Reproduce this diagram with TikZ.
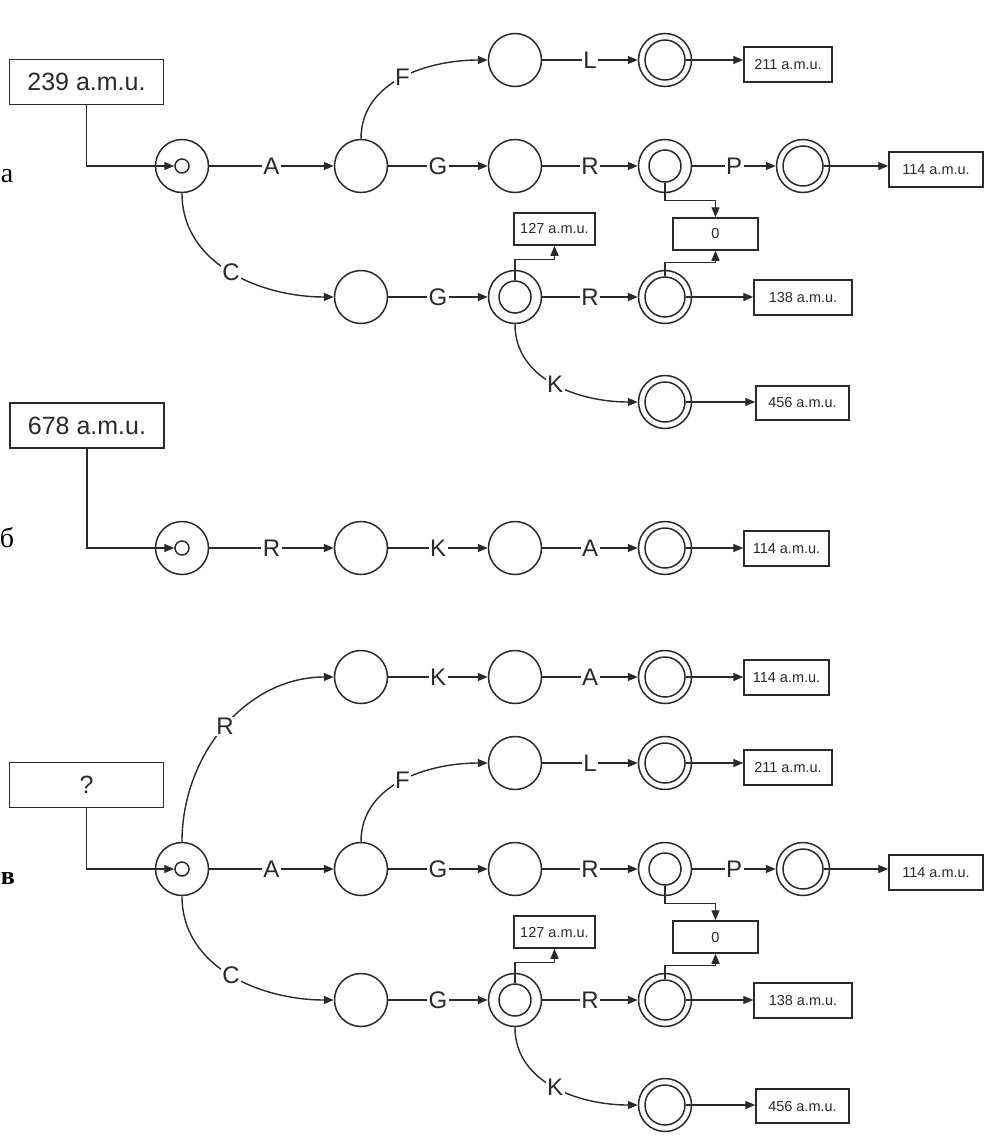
\documentclass[tikz,border=0pt]{standalone}
\usepackage{fontspec}
\setmainfont{Liberation Sans}
\newfontfamily\serifcyr{Liberation Serif}
\usetikzlibrary{arrows.meta}
\definecolor{ink}{HTML}{2A2A2A}
\tikzset{
  st/.style={circle,draw=ink,line width=1.5pt,minimum size=53pt,inner sep=0pt},
  inn/.style={circle,draw=ink,line width=1.5pt,inner sep=0pt,minimum size=#1},
  bigbox/.style={draw=ink,line width=1.5pt,inner sep=0pt,minimum width=154pt,minimum height=45pt,text=ink,font=\fontsize{25}{25}\selectfont},
  smallbox/.style={draw=ink,line width=1.5pt,inner sep=0pt,minimum height=35pt,text=ink,font=\fontsize{14.5}{14.5}\selectfont},
  arr/.style={draw=ink,line width=1.4pt,-{Triangle[length=10pt,width=8pt]}},
  lbl/.style={fill=white,inner sep=1.5pt,text=ink,font=\fontsize{24}{24}\selectfont},
  part/.style={font=\serifcyr\fontsize{28}{28}\selectfont,anchor=base,text=black}
}
\newcommand\mainpart[2]{%
  \node[bigbox] (#1b) at (86.5,82) {#2};
  \node[st] (#1s0) at (182,166) {};
  \node[inn=14pt] (#1s0i) at (182,166) {};
  \node[st] (#1n1) at (361,166) {};
  \node[st] (#1n2) at (515,60) {};
  \node[st] (#1f1) at (665,60) {};
  \node[inn=40pt] (#1f1i) at (665,60) {};
  \node[smallbox,minimum width=88pt] (#1b211) at (788,64.5) {211 a.m.u.};
  \node[st] (#1n3) at (515,166) {};
  \node[st] (#1o1) at (665,166) {};
  \node[inn=32pt] (#1o1i) at (665,166) {};
  \node[st] (#1f2) at (803,166) {};
  \node[inn=40pt] (#1f2i) at (803,166) {};
  \node[smallbox,minimum width=94pt] (#1b114) at (936,169.5) {114 a.m.u.};
  \node[smallbox,minimum width=85pt,minimum height=32pt] (#1b0) at (715.5,234) {0};
  \node[st] (#1n4) at (361,297) {};
  \node[st] (#1o2) at (515,297) {};
  \node[inn=32pt] (#1o2i) at (515,297) {};
  \node[smallbox,minimum width=81pt,minimum height=32pt] (#1b127) at (554.5,229) {127 a.m.u.};
  \node[st] (#1f3) at (665,297) {};
  \node[inn=40pt] (#1f3i) at (665,297) {};
  \node[smallbox,minimum width=98pt] (#1b138) at (803,297.5) {138 a.m.u.};
  \node[st] (#1f4) at (665,402) {};
  \node[inn=40pt] (#1f4i) at (665,402) {};
  \node[smallbox,minimum width=93pt,minimum height=34pt] (#1b456) at (802.5,403) {456 a.m.u.};
  \draw[arr] (#1b.south) |- (#1s0i.west);
  \draw[arr] (#1s0) -- node[lbl]{A} (#1n1);
  \draw[arr] (#1n1) -- node[lbl]{G} (#1n3);
  \draw[arr] (#1n3) -- node[lbl]{R} (#1o1);
  \draw[arr] (#1o1) -- node[lbl]{P} (#1f2);
  \draw[arr] (#1f2i.east) -- (#1f2i.east -| #1b114.west);
  \draw[arr] (#1n1.north) to[out=90,in=180] node[lbl]{F} (#1n2.west);
  \draw[arr] (#1n2) -- node[lbl]{L} (#1f1);
  \draw[arr] (#1f1i.east) -- (#1f1i.east -| #1b211.west);
  \draw[arr] (#1s0.south) to[out=-90,in=180] node[lbl]{C} (#1n4.west);
  \draw[arr] (#1n4) -- node[lbl]{G} (#1o2);
  \draw[arr] (#1o2) -- node[lbl]{R} (#1f3);
  \draw[arr] (#1f3i.east) -- (#1f3i.east -| #1b138.west);
  \draw[arr] (#1o2.south) to[out=-90,in=180] node[lbl]{K} (#1f4.west);
  \draw[arr] (#1f4i.east) -- (#1f4i.east -| #1b456.west);
  \draw[arr] (#1o1i.south) -- ++(0,18) -| (#1b0.north);
  \draw[arr] (#1f3i.north) -- ++(0,-14) -| (#1b0.south);
  \draw[arr] (#1o2i.north) -- ++(0,-21) -| (#1b127.south);
}
\begin{document}
\begin{tikzpicture}[x=1pt,y=-1pt]
\useasboundingbox[fill=white] (0,0) rectangle (987,1143);
% part a
\node[part] (pa) at (7,182) {а};
\mainpart{a}{239 a.m.u.}
% part b
\node[part] (pb) at (7,547) {б};
\node[bigbox] (bb) at (87,425.5) {678 a.m.u.};
\node[st] (bs0) at (182,548) {};
\node[inn=14pt] (bs0i) at (182,548) {};
\node[st] (bn1) at (361,548) {};
\node[st] (bn2) at (515,548) {};
\node[st] (bf) at (665,548) {};
\node[inn=40pt] (bfi) at (665,548) {};
\node[smallbox,minimum width=85pt] (bb114) at (786.5,548.5) {114 a.m.u.};
\draw[arr] (bb.south) |- (bs0i.west);
\draw[arr] (bs0) -- node[lbl]{R} (bn1);
\draw[arr] (bn1) -- node[lbl]{K} (bn2);
\draw[arr] (bn2) -- node[lbl]{A} (bf);
\draw[arr] (bfi.east) -- (bfi.east -| bb114.west);
% part v
\node[part,font=\serifcyr\bfseries\fontsize{26}{26}\selectfont] (pc) at (8,884) {в};
\begin{scope}[yshift=-703pt]
\mainpart{c}{?}
\end{scope}
\node[st] (cr1) at (361,677) {};
\node[st] (cr2) at (515,677) {};
\node[st] (crf) at (665,677) {};
\node[inn=40pt] (crfi) at (665,677) {};
\node[smallbox,minimum width=85pt] (cb114r) at (786.5,677.5) {114 a.m.u.};
\draw[arr] (cs0.north) to[out=90,in=180] node[lbl]{R} (cr1.west);
\draw[arr] (cr1) -- node[lbl]{K} (cr2);
\draw[arr] (cr2) -- node[lbl]{A} (crf);
\draw[arr] (crfi.east) -- (crfi.east -| cb114r.west);
\end{tikzpicture}
\end{document}
